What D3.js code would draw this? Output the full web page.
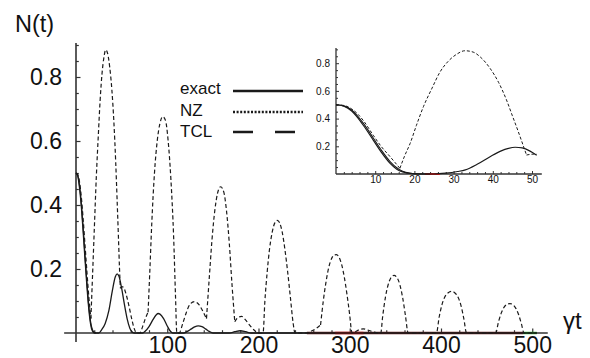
<!DOCTYPE html>
<html><head><meta charset="utf-8">
<script src="https://cdn.jsdelivr.net/npm/d3@7"></script>
<style>body{margin:0;background:#fff}svg{display:block}text{font-family:"Liberation Sans",Arial,sans-serif;fill:#111}</style>
</head><body><svg id="c" width="590" height="358"></svg>
<script>
// ---------- data ----------
const xMajorTicks = [100, 200, 300, 400, 500];
const yMajorTicks = [0.2, 0.4, 0.6, 0.8];
const insetXTicks = [10, 20, 30, 40, 50];
const insetYTicks = [0.2, 0.4, 0.6, 0.8];
const legendLabels = ["exact", "NZ", "TCL"];

const exactMain = [[0,0.5],[2,0.49],[4,0.45],[6,0.39],[8,0.31],[10,0.225],[12,0.145],[14,0.075],[16,0.028],[18,0.006],[20,0],[25,0],[28,0.01],[32,0.03],[36,0.07],[40,0.135],[43,0.175],[45,0.185],[47,0.178],[50,0.14],[53,0.09],[56,0.045],[59,0.015],[62,0.002],[64,0],[73,0],[76,0.006],[80,0.02],[84,0.04],[88,0.057],[90,0.061],[92,0.059],[96,0.045],[100,0.022],[103,0.007],[106,0],[118,0],[122,0.005],[126,0.012],[130,0.019],[134,0.022],[138,0.02],[142,0.013],[146,0.005],[150,0],[168,0],[174,0.004],[180,0.007],[186,0.004],[192,0],[505,0]];
const tclMain = [[0,0.5],[2,0.492],[4,0.458],[6,0.4],[8,0.322],[10,0.237],[12,0.157],[14,0.085],[16,0.035],[18,0.01],[20,0.002],[22,0]];
const nzMain = [
 [[0,0.5],[2,0.495],[4,0.47],[6,0.42],[8,0.35],[10,0.27],[12,0.19],[14,0.115],[16.3,0.045]],
 [[16.3,0.045],[18,0.17],[20,0.32],[22.3,0.49],[24.5,0.62],[26.5,0.73],[28.5,0.81],[30.8,0.865],[32.5,0.885],[34.5,0.875],[37,0.83],[39.3,0.76],[41.5,0.66],[43.5,0.535],[45,0.42],[46.5,0.3],[47.7,0.2],[48.6,0.14]],
 [[48.6,0.14],[50,0.145],[52,0.143],[55,0.12],[58,0.085],[61,0.045],[64,0.012],[66.5,0],[70,0],[73,0.02],[76,0.045],[79,0.065]],
 [[79,0.065],[81,0.2],[83,0.34],[86,0.5],[89,0.6],[92,0.655],[95,0.676],[98,0.665],[101,0.6],[104,0.48],[107,0.3],[109,0.12],[110.5,0],[113,0],[117,0.03],[121,0.065],[125,0.09],[130,0.098],[135,0.088],[139,0.068],[143,0.045]],
 [[143,0.045],[146,0.17],[149,0.29],[152,0.38],[155,0.435],[158.5,0.457],[162,0.44],[165,0.38],[168,0.28],[171,0.15],[174,0.035]],
 [[174,0.035],[177,0.047],[181.5,0.052],[186,0.04],[191,0.022],[196,0.007],[199.6,0],[205,0],[207,0.1],[209.5,0.19],[212,0.26],[215,0.315],[218,0.345],[220.6,0.352],[223,0.345],[226,0.315],[229,0.26],[232,0.19],[235,0.11],[238,0.03],[240,0],[253,0],[258,0.006],[263,0.014],[268,0.025]],
 [[268,0.025],[271,0.1],[274,0.16],[277,0.205],[280,0.232],[283,0.244],[285.5,0.245],[288,0.238],[291,0.215],[294,0.175],[297,0.12],[300,0.055],[302,0.005],[303,0],[306,0.004],[310,0.01],[314.7,0.013],[319,0.01],[325,0.004],[331,0],[334,0],[336,0.05],[339,0.11],[342,0.15],[345,0.172],[348.5,0.18],[352,0.172],[355,0.15],[358,0.11],[361,0.055],[364,0],[395,0],[398,0.05],[401,0.088],[404,0.112],[408,0.126],[411.7,0.13],[415,0.126],[419,0.11],[422,0.085],[425,0.045],[428,0],[460,0],[463,0.035],[466,0.062],[469,0.08],[472,0.089],[475.6,0.092],[479,0.088],[482,0.077],[485,0.058],[488,0.03],[491,0],[505,0]]
];
const axisMarksMain = [{from:253,to:490,color:"#6a1c1c"},{from:284,to:315,color:"#e01010"},{from:490,to:505,color:"#22bb22"}];

const exactInset = [[0,0.5],[2,0.49],[4,0.455],[5.3,0.414],[7,0.35],[9.5,0.245],[11.5,0.16],[13.8,0.077],[15.5,0.035],[17,0.015],[19,0.004],[21,0],[25,0],[28,0.006],[31,0.018],[33,0.03],[36,0.07],[39.3,0.125],[42,0.165],[44,0.185],[45.7,0.193],[47.5,0.188],[49.5,0.165],[51.2,0.135]];
const tclInset = [[0,0.5],[2,0.492],[4,0.462],[5.3,0.425],[7,0.365],[9.5,0.26],[11.5,0.175],[13.8,0.09],[15.5,0.045],[17,0.02],[19,0.006],[21,0.001],[24,0]];
const nzInset = [
 [[0,0.5],[2,0.495],[4,0.47],[5.3,0.44],[7,0.385],[9.5,0.28],[11.5,0.2],[13.8,0.125],[15,0.085],[16.3,0.041]],
 [[16.3,0.041],[17.5,0.13],[18.9,0.22],[20.5,0.35],[22.3,0.486],[24.5,0.62],[26.5,0.735],[28.5,0.81],[30.8,0.865],[32.9,0.89],[35,0.88],[37,0.84],[39.3,0.763],[41.5,0.66],[43.5,0.534],[45,0.42],[46.5,0.306],[47.7,0.21],[48.6,0.137]],
 [[48.6,0.137],[50,0.143],[51.2,0.144]]
];
const axisMarksInset = [{from:22.7,to:26.5,color:"#e01010"}];

// ---------- drawing ----------
const svg = d3.select("#c");
const ink = "#1a1a1a";

const x = d3.scaleLinear().domain([0, 500]).range([76, 532.25]);
const y = d3.scaleLinear().domain([0, 0.8]).range([333, 77]);

function drawAxes(g, xs, ys, o) {
  g.append("line").attr("x1", xs(o.xmin)).attr("x2", xs(o.xmax)).attr("y1", ys(0)).attr("y2", ys(0))
    .attr("stroke", "#333").attr("stroke-width", o.aw);
  g.append("line").attr("x1", xs(0)).attr("x2", xs(0)).attr("y1", ys(o.ymin)).attr("y2", ys(o.ymax))
    .attr("stroke", "#333").attr("stroke-width", o.aw);
  const gxm = g.append("g").attr("transform", `translate(0,${ys(0)})`)
    .call(d3.axisBottom(xs).tickValues(o.xMinor).tickSizeInner(-o.minor).tickSizeOuter(0).tickFormat(""));
  const gym = g.append("g").attr("transform", `translate(${xs(0)},0)`)
    .call(d3.axisLeft(ys).tickValues(o.yMinor).tickSizeInner(-o.minor).tickSizeOuter(0).tickFormat(""));
  const gx = g.append("g").attr("transform", `translate(0,${ys(0)})`)
    .call(d3.axisBottom(xs).tickValues(o.xTicks).tickSizeInner(-o.major).tickSizeOuter(0).tickPadding(o.xpad).tickFormat(d3.format("d")));
  const gy = g.append("g").attr("transform", `translate(${xs(0)},0)`)
    .call(d3.axisLeft(ys).tickValues(o.yTicks).tickSizeInner(-o.major).tickSizeOuter(0).tickPadding(o.ypad).tickFormat(d3.format(".1f")));
  [gxm, gym, gx, gy].forEach(a => {
    a.select(".domain").remove();
    a.selectAll("line").attr("stroke", "#333").attr("stroke-width", o.tw);
    a.selectAll("text").attr("font-size", o.fs).attr("fill", "#111").attr("font-family", '"Liberation Sans",Arial,sans-serif');
  });
}

drawAxes(svg.append("g"), x, y, {
  xmin: -13, xmax: 517, ymin: -0.028, ymax: 0.906, aw: 1.6, tw: 1.2,
  xMinor: d3.range(20, 520, 20).filter(v => v % 100 !== 0),
  yMinor: [0.05,0.1,0.15,0.25,0.3,0.35,0.45,0.5,0.55,0.65,0.7,0.75,0.85,0.9],
  xTicks: xMajorTicks, yTicks: yMajorTicks, major: 4.5, minor: 2.8, xpad: 4, ypad: 14, fs: 23
});

const line = (xs, ys) => d3.line().x(d => xs(d[0])).y(d => ys(d[1])).curve(d3.curveMonotoneX);

axisMarksMain.forEach(m => svg.append("line").attr("x1", x(m.from)).attr("x2", x(m.to))
  .attr("y1", y(0)).attr("y2", y(0)).attr("stroke", m.color).attr("stroke-width", 2.4));

const lm = line(x, y);
svg.append("path").attr("d", lm(tclMain)).attr("fill", "none").attr("stroke", ink).attr("stroke-width", 1.2);
svg.append("path").attr("d", lm(exactMain)).attr("fill", "none").attr("stroke", ink).attr("stroke-width", 1.3);
nzMain.forEach(seg => svg.append("path").attr("d", lm(seg)).attr("fill", "none")
  .attr("stroke", ink).attr("stroke-width", 1.2).attr("stroke-dasharray", "4,2.6"));

svg.append("text").attr("x", 15).attr("y", 32).attr("font-size", 23.5).text("N(t)");
svg.append("text").attr("x", 563).attr("y", 329).attr("font-size", 24)
  .attr("font-family", '"DejaVu Serif",serif').text("γt");

const legY = [94, 115.5, 137];
const legLineY = [91, 112, 132];
legendLabels.forEach((lab, i) => {
  svg.append("text").attr("x", 180).attr("y", legY[i]).attr("font-size", 17).text(lab);
});
svg.append("line").attr("x1", 233).attr("x2", 303).attr("y1", legLineY[0]).attr("y2", legLineY[0]).attr("stroke", ink).attr("stroke-width", 2.6);
svg.append("line").attr("x1", 233).attr("x2", 303).attr("y1", legLineY[1]).attr("y2", legLineY[1]).attr("stroke", ink).attr("stroke-width", 2.4).attr("stroke-dasharray", "2,1.6");
svg.append("line").attr("x1", 233).attr("x2", 303).attr("y1", legLineY[2]).attr("y2", legLineY[2]).attr("stroke", ink).attr("stroke-width", 2.6).attr("stroke-dasharray", "20,22");

const xi = d3.scaleLinear().domain([0, 50]).range([336, 532]);
const yi = d3.scaleLinear().domain([0, 0.8]).range([174, 63.2]);
const gi = svg.append("g");
drawAxes(gi, xi, yi, {
  xmin: 0, xmax: 52.5, ymin: 0, ymax: 0.91, aw: 1.3, tw: 1,
  xMinor: d3.range(2, 52, 2).filter(v => v % 10 !== 0),
  yMinor: [0.05,0.1,0.15,0.25,0.3,0.35,0.45,0.5,0.55,0.65,0.7,0.75,0.85,0.9],
  xTicks: insetXTicks, yTicks: insetYTicks, major: 3, minor: 2, xpad: 2, ypad: 6, fs: 10
});
axisMarksInset.forEach(m => gi.append("line").attr("x1", xi(m.from)).attr("x2", xi(m.to))
  .attr("y1", yi(0)).attr("y2", yi(0)).attr("stroke", m.color).attr("stroke-width", 1.8));
const li = line(xi, yi);
gi.append("path").attr("d", li(tclInset)).attr("fill", "none").attr("stroke", ink).attr("stroke-width", 1.1);
gi.append("path").attr("d", li(exactInset)).attr("fill", "none").attr("stroke", ink).attr("stroke-width", 1.2);
nzInset.forEach(seg => gi.append("path").attr("d", li(seg)).attr("fill", "none")
  .attr("stroke", ink).attr("stroke-width", 1).attr("stroke-dasharray", "3,2"));
</script></body></html>
